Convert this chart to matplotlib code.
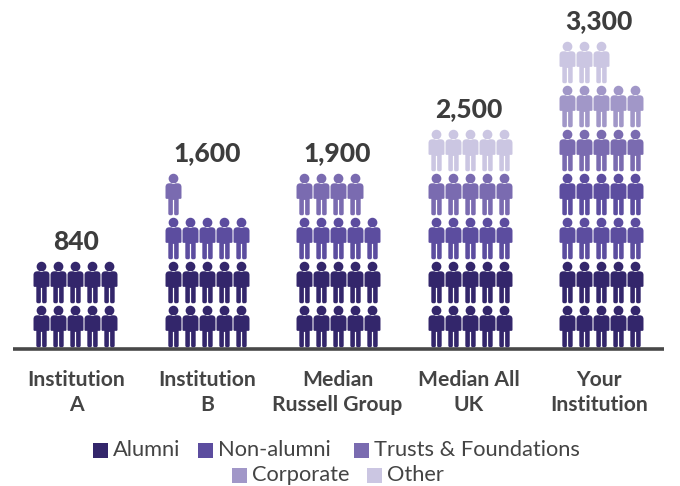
import matplotlib
matplotlib.use("Agg")
import matplotlib.pyplot as plt
from matplotlib.path import Path
from matplotlib.patches import Rectangle

plt.rcParams['font.family'] = ['Lato', 'DejaVu Sans']

institutions = ["Institution\nA", "Institution\nB", "Median\nRussell Group", "Median All\nUK", "Your\nInstitution"]
totals = ["840", "1,600", "1,900", "2,500", "3,300"]
categories = ["Alumni", "Non-alumni", "Trusts & Foundations", "Corporate", "Other"]
colors = ["#33266b", "#5c4d9f", "#7a6bb0", "#a197c8", "#cbc6e2"]

# number of icons in each category, one list per column
alumni = [10, 10, 10, 10, 10]
non_alumni = [0, 5, 5, 5, 10]
trusts = [0, 1, 4, 5, 5]
corporate = [0, 0, 0, 0, 5]
other = [0, 0, 0, 5, 3]


# person icon, y up, centred on 0
def person():
    k = 0.5522847
    r = 0.235
    cy = 0.765
    head = [(r, cy), (r, cy + k*r), (k*r, cy + r), (0, cy + r),
            (-k*r, cy + r), (-r, cy + k*r), (-r, cy),
            (-r, cy - k*r), (-k*r, cy - r), (0, cy - r),
            (k*r, cy - r), (r, cy - k*r), (r, cy), (r, cy)]
    head_codes = [Path.MOVETO] + [Path.CURVE4]*12 + [Path.CLOSEPOLY]
    # right half of the body, mirrored for the left one
    right = [(0, 0.54), (0.20, 0.54), (0.385, 0.54), (0.385, 0.36), (0.385, -0.16), (0.385, -0.21),
             (0.33, -0.21), (0.25, -0.21), (0.25, -0.92), (0.25, -1.0), (0.16, -1.0), (0.10, -1.0),
             (0.03, -1.0), (0.03, -0.92), (0.03, -0.26), (0, -0.26)]
    right_codes = [Path.MOVETO, Path.LINETO, Path.CURVE3, Path.CURVE3, Path.LINETO, Path.CURVE3,
                   Path.CURVE3, Path.LINETO, Path.LINETO, Path.CURVE3, Path.CURVE3, Path.LINETO,
                   Path.CURVE3, Path.CURVE3, Path.LINETO, Path.LINETO]
    left = [(-x, y) for x, y in reversed(right)]
    left_codes = list(reversed(right_codes))[:-1]
    body = right + left[1:] + [(0, 0.54)]
    body_codes = right_codes + left_codes + [Path.CLOSEPOLY]
    return Path(head + body, head_codes + body_codes)


fig = plt.figure(figsize=(6.8, 4.86), dpi=100)
ax = fig.add_axes([0, 0, 1, 1])
ax.set_xlim(0, 680)
ax.set_ylim(486, 0)
ax.axis('off')

marker = person()
series = [alumni, non_alumni, trusts, corporate, other]
per_row = 5
x_gap = 17
y_gap = 44
first_x = [41, 173, 304, 436, 567]
text_x = [76.5, 207, 337.5, 468.5, 599]
first_y = 326

for i, x0 in enumerate(first_x):
    n = 0
    for cat, vals in enumerate(series):
        xs, ys = [], []
        for _ in range(vals[i]):
            xs.append(x0 + (n % per_row)*x_gap)
            ys.append(first_y - (n // per_row)*y_gap)
            n += 1
        if xs:
            ax.scatter(xs, ys, marker=marker, s=(41.5*0.72)**2, color=colors[cat], linewidths=0, zorder=3)
    rows = (n + per_row - 1) // per_row
    ax.text(text_x[i], first_y - (rows - 1)*y_gap - 32.5, totals[i], ha='center', va='baseline',
            fontsize=19, fontweight='black', color='#3d3d3d')
    ax.text(text_x[i], 392.5, institutions[i], ha='center', va='center', fontsize=15.2,
            fontweight='bold', color='#444444', linespacing=1.33)

ax.plot([13, 664], [348.5, 348.5], color='#484848', lw=2.6, solid_capstyle='butt', zorder=4)

# legend, two centred rows
legend_rows = [[(0, 93, 113), (1, 198, 218), (2, 354, 374)], [(3, 232, 252), (4, 367, 387)]]
for row, y in zip(legend_rows, [450, 475]):
    for cat, box_x, label_x in row:
        ax.add_patch(Rectangle((box_x, y - 7), 14.5, 14.5, color=colors[cat], lw=0))
        ax.text(label_x, y, categories[cat], ha='left', va='center', fontsize=15.75, color='#444444')

fig.savefig("out.png", dpi=100)
